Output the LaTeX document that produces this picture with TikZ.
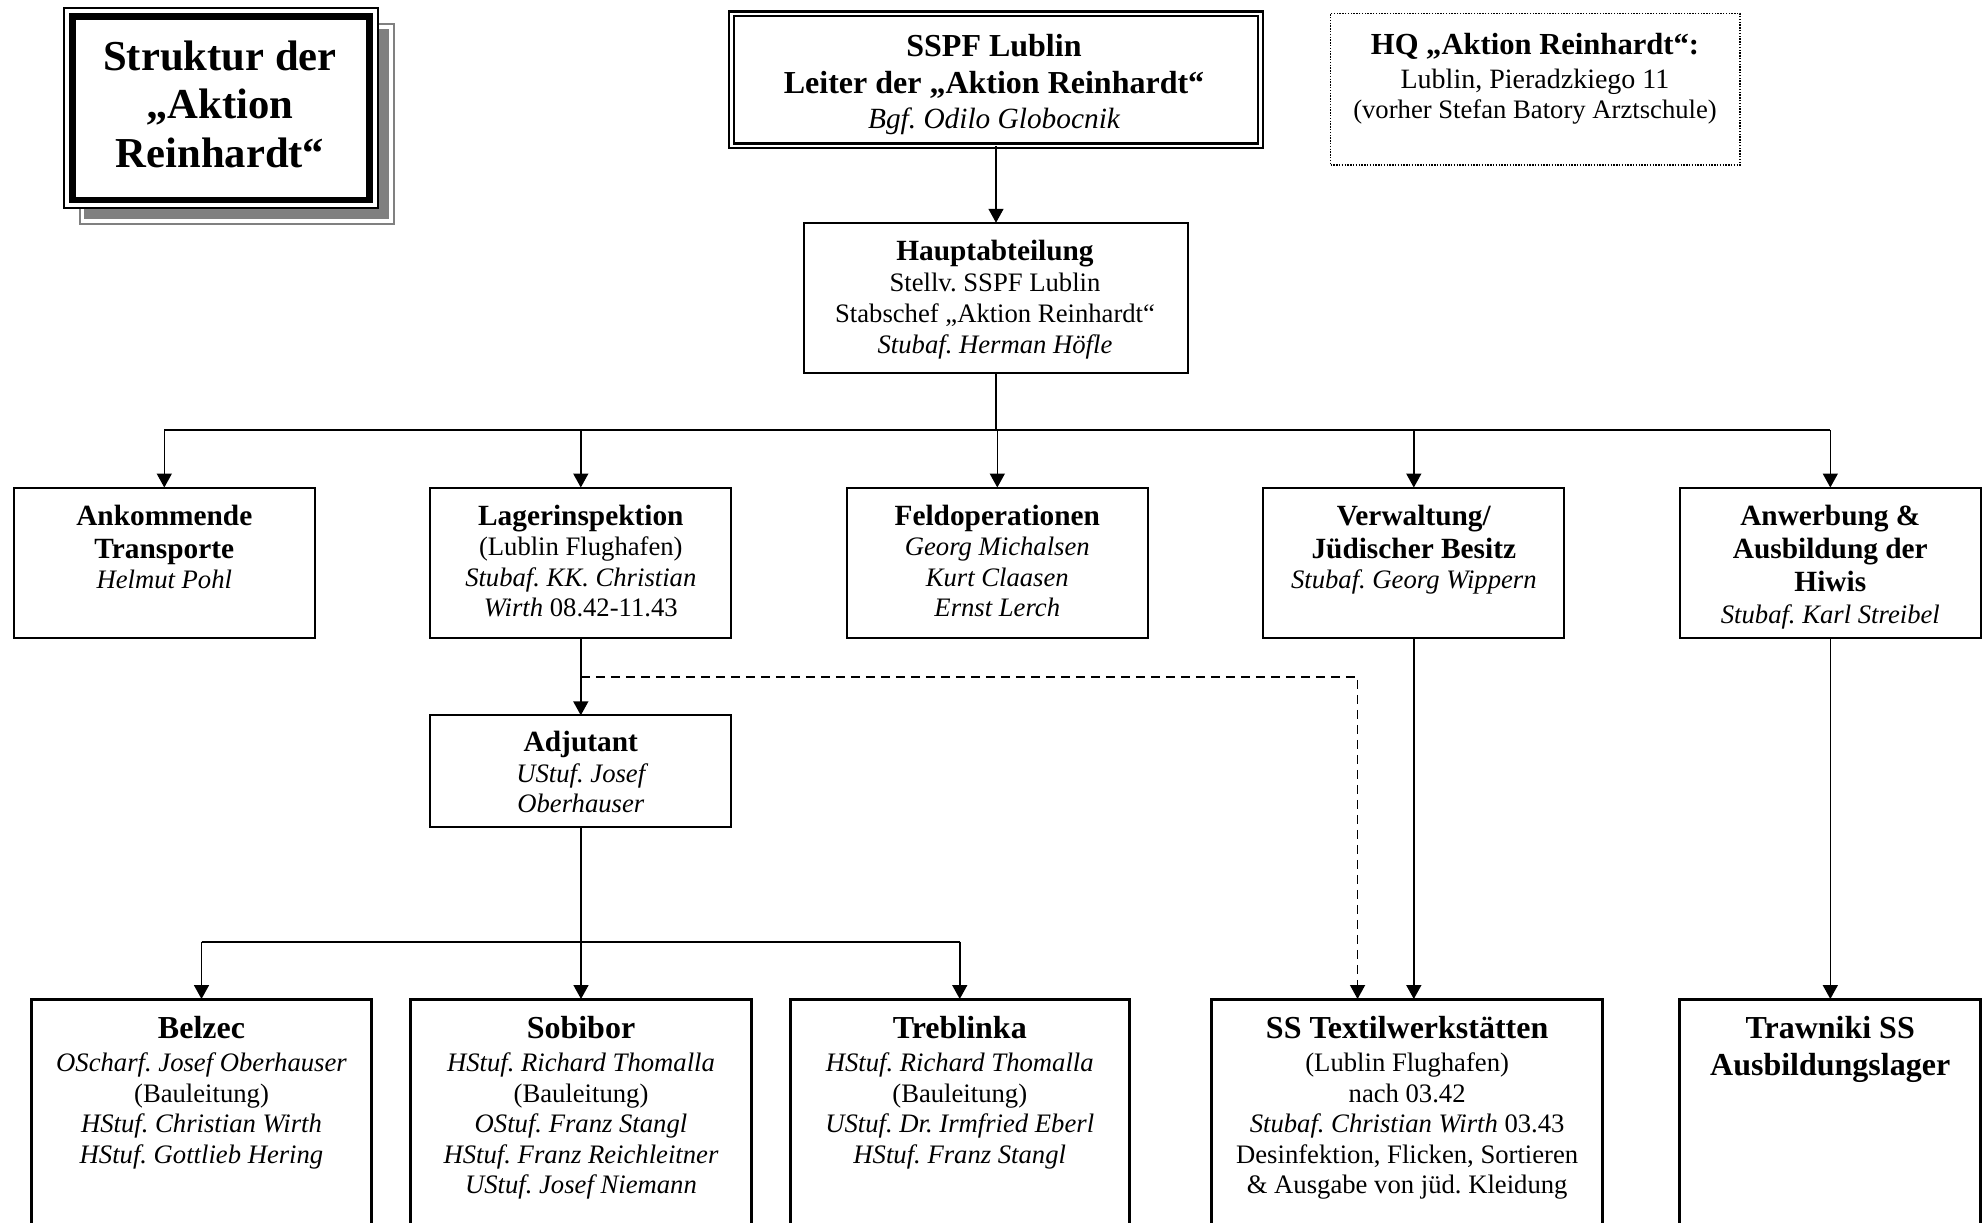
\documentclass[tikz,border=0pt]{standalone}
\usepackage{fontspec}
\setmainfont{Liberation Serif}
\usetikzlibrary{arrows.meta}
\definecolor{shadowgray}{HTML}{808080}
\newcommand\hdA{\bfseries\fontsize{14.67}{15.3}\selectfont}
\newcommand\hdB{\bfseries\fontsize{16}{15.3}\selectfont}
\newcommand\firstl{\rule{0pt}{12pt}}
\frenchspacing
\begin{document}
\begin{tikzpicture}[x=0.5pt,y=-0.5pt,
  box/.style={draw, line width=1pt, inner sep=0pt, outer sep=0pt, minimum width=150.5pt, minimum height=75pt},
  camp/.style={draw, line width=1.5pt, inner sep=0pt, outer sep=0pt, minimum height=120.5pt},
  txt/.style={inner sep=0pt, outer sep=0pt, align=center, anchor=north, font={\fontsize{13.33}{15.3}\selectfont}},
  conn/.style={line width=0.8pt},
  arr/.style={conn, -{Triangle[length=7pt,width=7.5pt]}},
  dashline/.style={arr, dash pattern=on 4.5pt off 3pt}
]
\useasboundingbox (0,0) rectangle (1984,1222);
\clip (0,0) rectangle (1984,1222);

% ---------- title with shadow ----------
\draw[shadowgray, line width=1pt] (80.4,24.3) rectangle (393.6,224.3);
\fill[shadowgray] (84,28.5) rectangle (388.5,219);
\draw[line width=1pt, fill=white] (64.4,8.3) rectangle (377.6,208.3);
\draw[line width=3.35pt] (72.5,16.7) rectangle (369.4,200);
\node[txt, font={\fontsize{21.33}{24.2}\selectfont\bfseries}] (title) at (220,38.5)
  {\rule{0pt}{16pt}Struktur der\\„Aktion\\Reinhardt“};

% ---------- top boxes ----------
\node[draw, line width=1.15pt, double, double distance=1.2pt, inner sep=0pt, outer sep=0pt,
      minimum width=264.35pt, minimum height=66pt] (sspf) at (996,79.75) {};
\node[txt, font={\fontsize{16}{17.35}\selectfont\bfseries}] (sspf-t) at (994,32.7)
  {\firstl SSPF Lublin\\[0.95pt] Leiter der „Aktion Reinhardt“\\
   {\mdseries\itshape\fontsize{14.67}{17.35}\selectfont Bgf. Odilo Globocnik}};

\node[draw, line width=0.7pt, dash pattern=on 0.7pt off 0.7pt, inner sep=0pt, outer sep=0pt,
      minimum width=204.75pt, minimum height=75.85pt] (hq) at (1535.25,89.15) {};
\node[txt, font={\fontsize{13.33}{14.85}\selectfont}] (hq-t) at (1535,30)
  {{\bfseries\fontsize{15.3}{14.85}\selectfont\firstl HQ „Aktion Reinhardt“:}\\[2.3pt]
   {\fontsize{14}{14.85}\selectfont Lublin, Pieradzkiego 11}\\
   (vorher Stefan Batory Arztschule)};

\node[box, minimum width=192pt, minimum height=75.15pt] (haupt) at (996,297.9) {};
\node[txt, font={\fontsize{13.33}{15.5}\selectfont}] (haupt-t) at (995,236)
  {{\hdA\firstl Hauptabteilung}\\ Stellv. SSPF Lublin\\ Stabschef „Aktion Reinhardt“\\
   {\itshape Stubaf. Herman Höfle}};

% ---------- middle row ----------
\node[box] (ank)  at (164.3,562.5) {};
\node[box] (lag)  at (580.8,562.5) {};
\node[box] (feld) at (997.3,562.5) {};
\node[box] (verw) at (1413.8,562.5) {};
\node[box] (anw)  at (1830.3,562.5) {};

\node[txt] (ank-t) at (164.3,501)
  {{\hdA\firstl Ankommende}\\[1.35pt] {\hdA Transporte}\\ {\itshape Helmut Pohl}};
\node[txt] (lag-t) at (580.8,501)
  {{\hdA\firstl Lagerinspektion}\\ (Lublin Flughafen)\\ {\itshape Stubaf. KK. Christian}\\
   {\itshape Wirth} 08.42-11.43};
\node[txt] (feld-t) at (997.3,501)
  {{\hdA\firstl Feldoperationen}\\ {\itshape Georg Michalsen}\\ {\itshape Kurt Claasen}\\
   {\itshape Ernst Lerch}};
\node[txt] (verw-t) at (1413.8,501)
  {{\hdA\firstl Verwaltung/}\\[1.35pt] {\hdA Jüdischer Besitz}\\ {\itshape Stubaf. Georg Wippern}};
\node[txt] (anw-t) at (1830.3,501)
  {{\hdA\firstl Anwerbung \&}\\[1.35pt] {\hdA Ausbildung der}\\[1.35pt] {\hdA Hiwis}\\[0.4pt]
   {\itshape Stubaf. Karl Streibel}};

\node[box, minimum height=56pt] (adj) at (580.8,771.3) {};
\node[txt] (adj-t) at (580.8,727.7)
  {{\hdA\firstl Adjutant}\\ {\itshape UStuf. Josef}\\ {\itshape Oberhauser}};

% ---------- bottom row ----------
\node[camp, minimum width=170pt]    (belz) at (201.5,1119.5) {};
\node[camp, minimum width=170.1pt]  (sobi) at (581,1119.5) {};
\node[camp, minimum width=169.25pt] (treb) at (959.75,1119.5) {};
\node[camp, minimum width=195.65pt] (text) at (1407.15,1119.5) {};
\node[camp, minimum width=150.3pt]  (traw) at (1830.2,1119.5) {};

\node[txt, font={\fontsize{13.33}{15.25}\selectfont}] (belz-t) at (201.5,1014.3)
  {{\hdB\firstl Belzec}\\[1.45pt] {\itshape OScharf. Josef Oberhauser}\\ (Bauleitung)\\
   {\itshape HStuf. Christian Wirth}\\ {\itshape HStuf. Gottlieb Hering}};
\node[txt, font={\fontsize{13.33}{15.25}\selectfont}] (sobi-t) at (581,1014.3)
  {{\hdB\firstl Sobibor}\\[1.45pt] {\itshape HStuf. Richard Thomalla}\\ (Bauleitung)\\
   {\itshape OStuf. Franz Stangl}\\ {\itshape HStuf. Franz Reichleitner}\\ {\itshape UStuf. Josef Niemann}};
\node[txt, font={\fontsize{13.33}{15.25}\selectfont}] (treb-t) at (959.75,1014.3)
  {{\hdB\firstl Treblinka}\\[1.45pt] {\itshape HStuf. Richard Thomalla}\\ (Bauleitung)\\
   {\itshape UStuf. Dr. Irmfried Eberl}\\ {\itshape HStuf. Franz Stangl}};
\node[txt, font={\fontsize{13.33}{15.25}\selectfont}] (text-t) at (1407.15,1014.3)
  {{\hdB\firstl SS Textilwerkstätten}\\[1.45pt] (Lublin Flughafen)\\ nach 03.42\\
   {\itshape Stubaf. Christian Wirth} 03.43\\ Desinfektion, Flicken, Sortieren\\
   \& Ausgabe von jüd. Kleidung};
\node[txt, font={\fontsize{13.33}{15.25}\selectfont}] (traw-t) at (1830.2,1014.3)
  {{\hdB\firstl Trawniki SS}\\[3.1pt] {\hdB Ausbildungslager}};

% ---------- connectors ----------
\coordinate (bus1) at (0,430);
\coordinate (bus2) at (0,941.7);
\coordinate (dsh)  at (0,676.7);

\draw[arr] (sspf.south) -- (sspf.south |- haupt.north);
\draw[conn] (haupt.south) -- (haupt.south |- bus1);
\draw[conn] (ank.north |- bus1) -- (anw.north |- bus1);
\foreach \n in {ank,lag,feld,verw,anw} \draw[arr] (\n.north |- bus1) -- (\n.north);

\draw[arr] (lag.south) -- (adj.north);
\draw[dashline] (lag.south |- dsh) -| ([xshift=-24.8pt]text.north);
\draw[arr] (verw.south) -- (verw.south |- text.north);
\draw[arr] (anw.south) -- (anw.south |- traw.north);

\draw[conn] (adj.south) -- (adj.south |- bus2);
\draw[conn] (belz.north |- bus2) -- (treb.north |- bus2);
\foreach \n in {belz,sobi,treb} \draw[arr] (\n.north |- bus2) -- (\n.north);
\end{tikzpicture}
\end{document}
